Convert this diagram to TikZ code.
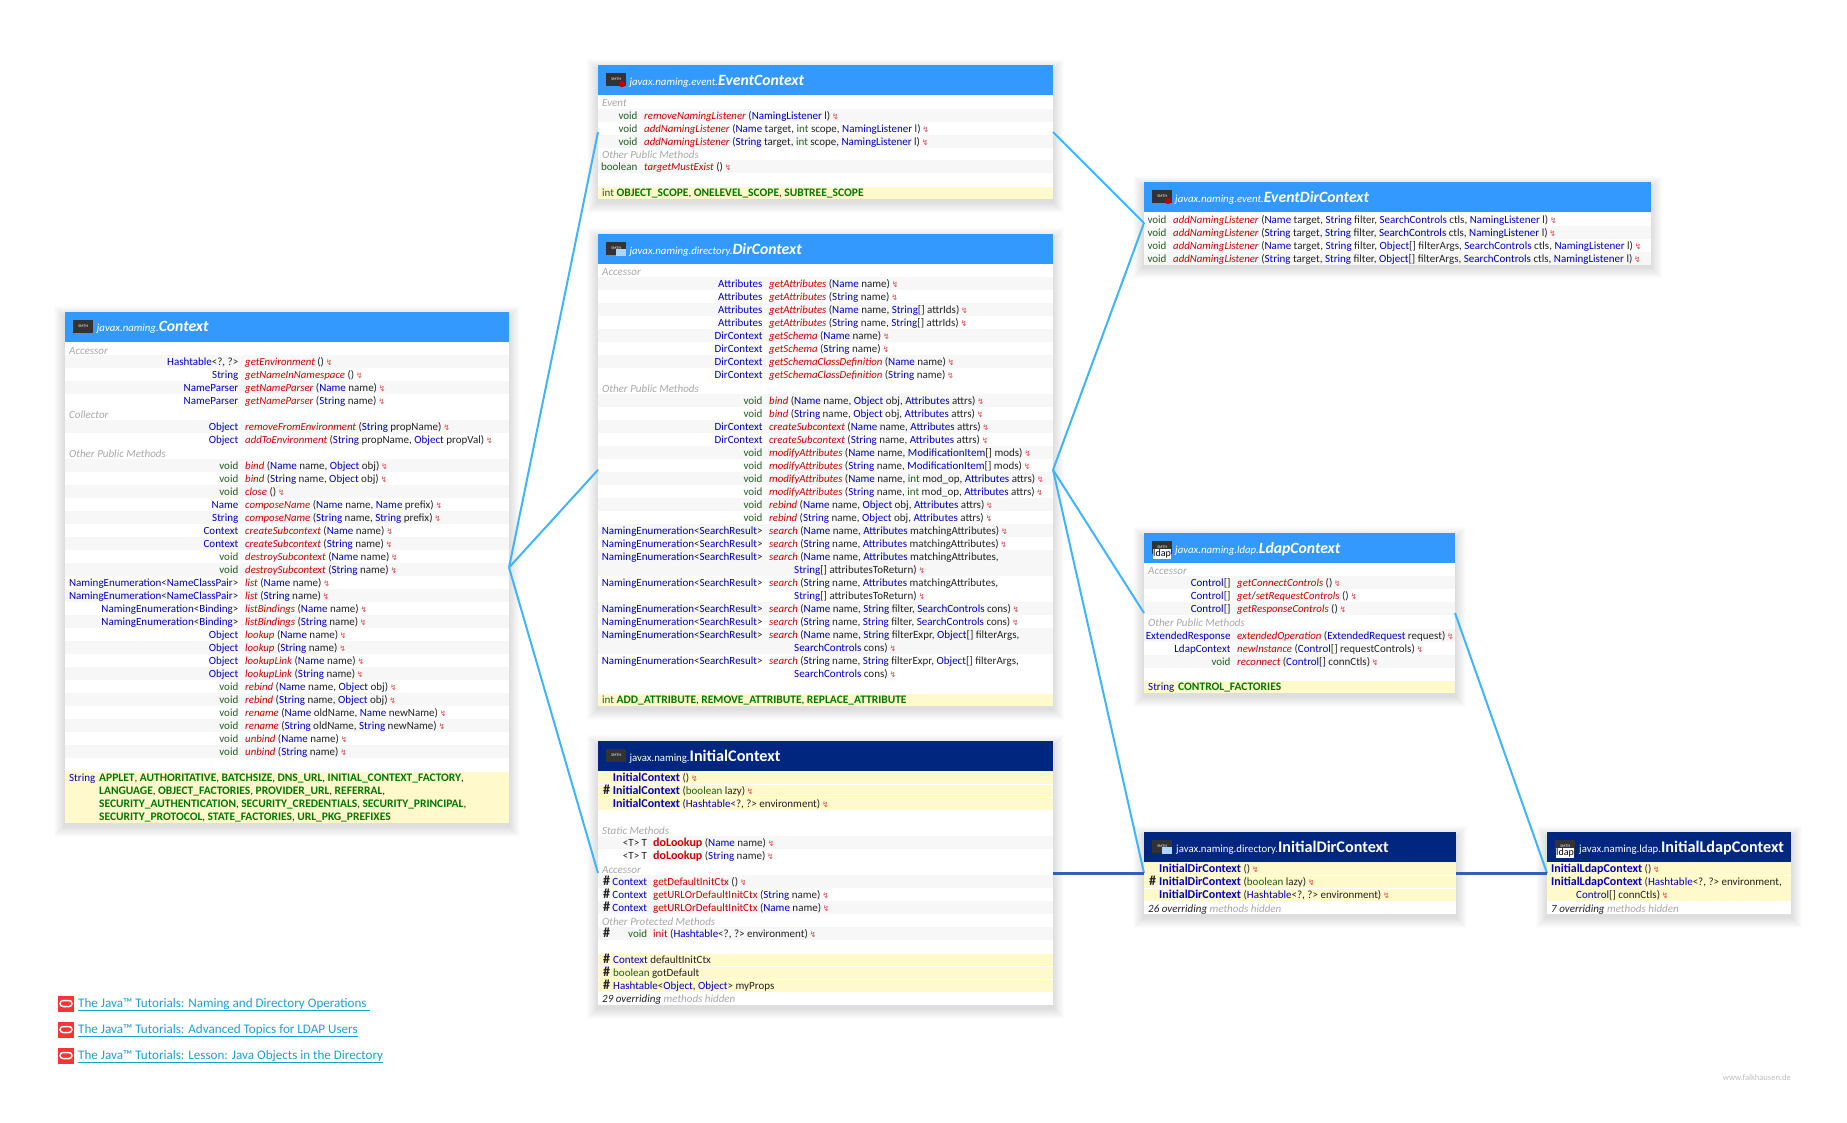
\documentclass[tikz,border=0pt]{standalone}
\usepackage{fontspec}
\usepackage{xcolor}
\usetikzlibrary{fit,calc}
\setmainfont{Carlito}
\newfontfamily\symfont{DejaVu Sans}

\definecolor{headlight}{HTML}{3399FF}
\definecolor{headdark}{HTML}{00267F}
\definecolor{rowgray}{HTML}{F7F7F7}
\definecolor{fieldyellow}{HTML}{FFF9CC}
\definecolor{typeblue}{HTML}{0000C0}
\definecolor{keygreen}{HTML}{1F5F1F}
\definecolor{methred}{HTML}{CC0000}
\definecolor{constgreen}{HTML}{007700}
\definecolor{sectgray}{HTML}{A8A8A8}
\definecolor{txtblack}{HTML}{222222}
\definecolor{inheritlight}{HTML}{40B4FF}
\definecolor{inheritdark}{HTML}{2F62B4}
\definecolor{linkblue}{HTML}{1E9FD0}
\definecolor{oraclered}{HTML}{FF3333}

\newcommand{\rowfont}{\fontsize{11}{13}\selectfont}
\newcommand{\T}[1]{\textcolor{typeblue}{#1}}
\newcommand{\K}[1]{\textcolor{keygreen}{#1}}
\newcommand{\C}[1]{\textcolor{constgreen}{\fontsize{11.5}{13}\selectfont\textbf{#1}}}
\newcommand{\zp}{\,{\symfont\fontsize{8}{8}\selectfont\textcolor{methred!70}{↯}}}
\newcommand{\M}[1]{\textcolor{methred}{\fontsize{10.8}{13}\selectfont\textit{#1}}}
\newcommand{\Mb}[1]{\textcolor{methred}{\fontsize{12}{13}\selectfont\textbf{#1}}}
\newcommand{\Mp}[1]{\textcolor{methred}{#1}}
\newcommand{\Mc}[1]{\textcolor{typeblue}{\fontsize{12}{13}\selectfont\textbf{#1}}}
\newcommand{\hs}{\textbf{\fontsize{14}{13}\selectfont\#}}

\newcounter{rowno}
\tikzset{
  rettext/.style={anchor=base east,inner sep=0pt,yshift=-4pt,font=\rowfont,text=txtblack},
  methtext/.style={anchor=base west,inner sep=0pt,yshift=-4pt,font=\rowfont,text=txtblack},
  secttext/.style={methtext,text=sectgray,font=\rowfont\itshape},
  titletext/.style={anchor=base west,inner sep=0pt,text=white},
  classbody/.style={inner sep=0pt,outer sep=0pt,fill=white},
  classhead/.style={inner sep=0pt,outer sep=0pt},
  inherit/.style={inheritlight,line width=2pt},
  extend/.style={inheritdark,line width=3pt},
  linktext/.style={anchor=base west,inner sep=0pt,text=linkblue,font=\fontsize{13.1}{14}\selectfont}
}

% row with type column and method column
\newcommand{\mrow}[3]{\stepcounter{rowno}%
  \node[rettext] (ret\therowno) at (\xr,#1) {#2};
  \node[methtext] (meth\therowno) at (\xm,#1) {#3};}
% text starting at a given x
\newcommand{\trow}[3]{\stepcounter{rowno}%
  \node[methtext] (line\therowno) at (#1,#2) {#3};}
\newcommand{\sect}[3]{\stepcounter{rowno}%
  \node[secttext] (sect\therowno) at (#1,#2) {#3};}
\newcommand{\stripes}[3]{\foreach \y in {#3} \fill[rowgray] (#1,\y-6.5) rectangle (#2,\y+6.5);}
\newcommand{\fieldbar}[4]{\fill[fieldyellow] (#1,#3) rectangle (#2,#4);}

% box with soft shadow and coloured head
\newcommand{\classbox}[6]{%
  \foreach \s in {1,...,11} \fill[black,opacity=.011] (#2-\s,#3-\s+5) rectangle (#4+\s,#5+\s+3);
  \coordinate (#1-a) at (#2,#3);
  \coordinate (#1-b) at (#4,#5);
  \coordinate (#1-c) at (#2,#3+30);
  \coordinate (#1-d) at (#4,#3);
  \node[classbody,fit=(#1-a)(#1-b)] (#1) {};
  \node[classhead,fill=#6,fit=(#1-c)(#1-d)] (#1-head) {};
  \node[inner sep=0pt,fill=black!80,minimum width=20,minimum height=13,anchor=north west,
    text=white!70,font=\fontsize{4}{4}\selectfont] (#1-icon) at (#2+8,#3+8) {SMTH};}

\newcommand{\ifacetitle}[4]{\node[titletext] (#1-title) at (#2) {\fontsize{10.8}{12}\selectfont\textit{#3}\fontsize{15.7}{12}\selectfont\textbf{\textit{#4}}};}
\newcommand{\classtitle}[4]{\node[titletext] (#1-title) at (#2) {\fontsize{10.8}{12}\selectfont #3\fontsize{16.2}{12}\selectfont\textbf{#4}};}

\newcommand{\tutorial}[3]{%
  \node[fill=oraclered,minimum width=16,minimum height=16,inner sep=0pt] (ora#1) at (66,#2) {};
  \draw[white,line width=1.5pt,rounded corners=3] ($(ora#1.center)+(-6,-3)$) rectangle ($(ora#1.center)+(6,3)$);
  \node[linktext] (tut#1) at (78,#2+3.5) {\underline{#3}};}

\begin{document}
\begin{tikzpicture}[x=1pt,y=-1pt]
  \useasboundingbox (0,0) rectangle (1847,1122);

  % Context
  \classbox{context}{65}{312}{509}{823}{headlight}
  \ifacetitle{context}{96.7,331.7}{javax.naming.}{Context}
  \stripes{65}{509}{361.7,387.7,426.7,465.7,491.7,517.7,543.7,569.7,595.7,621.7,647.7,673.7,699.7,725.7,751.7}
  \fieldbar{65}{509}{771.7}{823}
  \def\xr{238.5}\def\xm{245}
  \sect{69}{350}{Accessor}
  \mrow{361.7}{\T{Hashtable}<?, ?>}{\M{getEnvironment} ()\zp}
  \mrow{374.7}{\T{String}}{\M{getNameInNamespace} ()\zp}
  \mrow{387.7}{\T{NameParser}}{\M{getNameParser} (\T{Name} name)\zp}
  \mrow{400.7}{\T{NameParser}}{\M{getNameParser} (\T{String} name)\zp}
  \sect{69}{414.5}{Collector}
  \mrow{426.7}{\T{Object}}{\M{removeFromEnvironment} (\T{String} propName)\zp}
  \mrow{439.7}{\T{Object}}{\M{addToEnvironment} (\T{String} propName, \T{Object} propVal)\zp}
  \sect{69}{453.5}{Other Public Methods}
  \mrow{465.7}{\K{void}}{\M{bind} (\T{Name} name, \T{Object} obj)\zp}
  \mrow{478.7}{\K{void}}{\M{bind} (\T{String} name, \T{Object} obj)\zp}
  \mrow{491.7}{\K{void}}{\M{close} ()\zp}
  \mrow{504.7}{\T{Name}}{\M{composeName} (\T{Name} name, \T{Name} prefix)\zp}
  \mrow{517.7}{\T{String}}{\M{composeName} (\T{String} name, \T{String} prefix)\zp}
  \mrow{530.7}{\T{Context}}{\M{createSubcontext} (\T{Name} name)\zp}
  \mrow{543.7}{\T{Context}}{\M{createSubcontext} (\T{String} name)\zp}
  \mrow{556.7}{\K{void}}{\M{destroySubcontext} (\T{Name} name)\zp}
  \mrow{569.7}{\K{void}}{\M{destroySubcontext} (\T{String} name)\zp}
  \mrow{582.7}{\T{NamingEnumeration}<\T{NameClassPair}>}{\M{list} (\T{Name} name)\zp}
  \mrow{595.7}{\T{NamingEnumeration}<\T{NameClassPair}>}{\M{list} (\T{String} name)\zp}
  \mrow{608.7}{\T{NamingEnumeration}<\T{Binding}>}{\M{listBindings} (\T{Name} name)\zp}
  \mrow{621.7}{\T{NamingEnumeration}<\T{Binding}>}{\M{listBindings} (\T{String} name)\zp}
  \mrow{634.7}{\T{Object}}{\M{lookup} (\T{Name} name)\zp}
  \mrow{647.7}{\T{Object}}{\M{lookup} (\T{String} name)\zp}
  \mrow{660.7}{\T{Object}}{\M{lookupLink} (\T{Name} name)\zp}
  \mrow{673.7}{\T{Object}}{\M{lookupLink} (\T{String} name)\zp}
  \mrow{686.7}{\K{void}}{\M{rebind} (\T{Name} name, \T{Object} obj)\zp}
  \mrow{699.7}{\K{void}}{\M{rebind} (\T{String} name, \T{Object} obj)\zp}
  \mrow{712.7}{\K{void}}{\M{rename} (\T{Name} oldName, \T{Name} newName)\zp}
  \mrow{725.7}{\K{void}}{\M{rename} (\T{String} oldName, \T{String} newName)\zp}
  \mrow{738.7}{\K{void}}{\M{unbind} (\T{Name} name)\zp}
  \mrow{751.7}{\K{void}}{\M{unbind} (\T{String} name)\zp}
  \trow{69}{777.3}{\T{String}}
  \trow{99}{777.3}{\C{APPLET}, \C{AUTHORITATIVE}, \C{BATCHSIZE}, \C{DNS\_URL}, \C{INITIAL\_CONTEXT\_FACTORY},}
  \trow{99}{790.3}{\C{LANGUAGE}, \C{OBJECT\_FACTORIES}, \C{PROVIDER\_URL}, \C{REFERRAL},}
  \trow{99}{803.3}{\C{SECURITY\_AUTHENTICATION}, \C{SECURITY\_CREDENTIALS}, \C{SECURITY\_PRINCIPAL},}
  \trow{99}{816.3}{\C{SECURITY\_PROTOCOL}, \C{STATE\_FACTORIES}, \C{URL\_PKG\_PREFIXES}}

  % EventContext
  \classbox{eventctx}{598}{65}{1053}{199}{headlight}
  \fill[red!75!black] (622,84) circle (3.2);
  \ifacetitle{eventctx}{629.3,85}{javax.naming.event.}{EventContext}
  \stripes{598}{1053}{115,141,166.7}
  \fieldbar{598}{1053}{187}{199}
  \def\xr{637.7}\def\xm{644}
  \sect{602}{102.7}{Event}
  \mrow{115}{\K{void}}{\M{removeNamingListener} (\T{NamingListener} l)\zp}
  \mrow{128}{\K{void}}{\M{addNamingListener} (\T{Name} target, \K{int} scope, \T{NamingListener} l)\zp}
  \mrow{141}{\K{void}}{\M{addNamingListener} (\T{String} target, \K{int} scope, \T{NamingListener} l)\zp}
  \sect{602}{154.7}{Other Public Methods}
  \mrow{166.7}{\K{boolean}}{\M{targetMustExist} ()\zp}
  \trow{602}{192.3}{\K{int} \C{OBJECT\_SCOPE}, \C{ONELEVEL\_SCOPE}, \C{SUBTREE\_SCOPE}}

  % DirContext
  \classbox{dirctx}{598}{234}{1053}{705.7}{headlight}
  \fill[headlight!40] (616,249) rectangle (626,256);
  \ifacetitle{dirctx}{629.3,254}{javax.naming.directory.}{DirContext}
  \stripes{598}{1053}{283.7,309.7,335.7,361.7,400.7,426.7,452.7,478.7,504.7,530.7,556.7,569.7,608.7,634.7,647.7}
  \fieldbar{598}{1053}{694}{705.7}
  \def\xr{762.7}\def\xm{769}
  \sect{602}{271.7}{Accessor}
  \mrow{283.7}{\T{Attributes}}{\M{getAttributes} (\T{Name} name)\zp}
  \mrow{296.7}{\T{Attributes}}{\M{getAttributes} (\T{String} name)\zp}
  \mrow{309.7}{\T{Attributes}}{\M{getAttributes} (\T{Name} name, \T{String}[] attrIds)\zp}
  \mrow{322.7}{\T{Attributes}}{\M{getAttributes} (\T{String} name, \T{String}[] attrIds)\zp}
  \mrow{335.7}{\T{DirContext}}{\M{getSchema} (\T{Name} name)\zp}
  \mrow{348.7}{\T{DirContext}}{\M{getSchema} (\T{String} name)\zp}
  \mrow{361.7}{\T{DirContext}}{\M{getSchemaClassDefinition} (\T{Name} name)\zp}
  \mrow{374.7}{\T{DirContext}}{\M{getSchemaClassDefinition} (\T{String} name)\zp}
  \sect{602}{388.3}{Other Public Methods}
  \mrow{400.7}{\K{void}}{\M{bind} (\T{Name} name, \T{Object} obj, \T{Attributes} attrs)\zp}
  \mrow{413.7}{\K{void}}{\M{bind} (\T{String} name, \T{Object} obj, \T{Attributes} attrs)\zp}
  \mrow{426.7}{\T{DirContext}}{\M{createSubcontext} (\T{Name} name, \T{Attributes} attrs)\zp}
  \mrow{439.7}{\T{DirContext}}{\M{createSubcontext} (\T{String} name, \T{Attributes} attrs)\zp}
  \mrow{452.7}{\K{void}}{\M{modifyAttributes} (\T{Name} name, \T{ModificationItem}[] mods)\zp}
  \mrow{465.7}{\K{void}}{\M{modifyAttributes} (\T{String} name, \T{ModificationItem}[] mods)\zp}
  \mrow{478.7}{\K{void}}{\M{modifyAttributes} (\T{Name} name, \K{int} mod\_op, \T{Attributes} attrs)\zp}
  \mrow{491.7}{\K{void}}{\M{modifyAttributes} (\T{String} name, \K{int} mod\_op, \T{Attributes} attrs)\zp}
  \mrow{504.7}{\K{void}}{\M{rebind} (\T{Name} name, \T{Object} obj, \T{Attributes} attrs)\zp}
  \mrow{517.7}{\K{void}}{\M{rebind} (\T{String} name, \T{Object} obj, \T{Attributes} attrs)\zp}
  \mrow{530.7}{\T{NamingEnumeration}<\T{SearchResult}>}{\M{search} (\T{Name} name, \T{Attributes} matchingAttributes)\zp}
  \mrow{543.7}{\T{NamingEnumeration}<\T{SearchResult}>}{\M{search} (\T{String} name, \T{Attributes} matchingAttributes)\zp}
  \mrow{556.7}{\T{NamingEnumeration}<\T{SearchResult}>}{\M{search} (\T{Name} name, \T{Attributes} matchingAttributes,}
  \trow{794}{569.7}{\T{String}[] attributesToReturn)\zp}
  \mrow{582.7}{\T{NamingEnumeration}<\T{SearchResult}>}{\M{search} (\T{String} name, \T{Attributes} matchingAttributes,}
  \trow{794}{595.7}{\T{String}[] attributesToReturn)\zp}
  \mrow{608.7}{\T{NamingEnumeration}<\T{SearchResult}>}{\M{search} (\T{Name} name, \T{String} filter, \T{SearchControls} cons)\zp}
  \mrow{621.7}{\T{NamingEnumeration}<\T{SearchResult}>}{\M{search} (\T{String} name, \T{String} filter, \T{SearchControls} cons)\zp}
  \mrow{634.7}{\T{NamingEnumeration}<\T{SearchResult}>}{\M{search} (\T{Name} name, \T{String} filterExpr, \T{Object}[] filterArgs,}
  \trow{794}{647.7}{\T{SearchControls} cons)\zp}
  \mrow{660.7}{\T{NamingEnumeration}<\T{SearchResult}>}{\M{search} (\T{String} name, \T{String} filterExpr, \T{Object}[] filterArgs,}
  \trow{794}{673.7}{\T{SearchControls} cons)\zp}
  \trow{602}{699.3}{\K{int} \C{ADD\_ATTRIBUTE}, \C{REMOVE\_ATTRIBUTE}, \C{REPLACE\_ATTRIBUTE}}

  % InitialContext
  \classbox{initctx}{598}{741}{1053}{1005}{headdark}
  \classtitle{initctx}{629.3,761}{javax.naming.}{InitialContext}
  \fieldbar{598}{1053}{771}{784.3}
  \fieldbar{598}{1053}{785.3}{797.3}
  \fieldbar{598}{1053}{798.3}{810}
  \stripes{598}{1053}{842.7,881.7,907.7,933.7}
  \fieldbar{598}{1053}{954}{966.3}
  \fieldbar{598}{1053}{967.3}{979.3}
  \fieldbar{598}{1053}{980.3}{992}
  \def\xr{647.3}\def\xm{653}
  \trow{603}{790.7}{\hs}
  \trow{612.7}{777.7}{\Mc{InitialContext} ()\zp}
  \trow{612.7}{790.7}{\Mc{InitialContext} (\K{boolean} lazy)\zp}
  \trow{612.7}{803.7}{\Mc{InitialContext} (\T{Hashtable}<?, ?> environment)\zp}
  \sect{602}{830.7}{Static Methods}
  \mrow{842.7}{<T> T}{\Mb{doLookup} (\T{Name} name)\zp}
  \mrow{855.7}{<T> T}{\Mb{doLookup} (\T{String} name)\zp}
  \sect{602}{869.7}{Accessor}
  \trow{603}{881.7}{\hs}
  \mrow{881.7}{\T{Context}}{\Mp{getDefaultInitCtx} ()\zp}
  \trow{603}{894.7}{\hs}
  \mrow{894.7}{\T{Context}}{\Mp{getURLOrDefaultInitCtx} (\T{String} name)\zp}
  \trow{603}{907.7}{\hs}
  \mrow{907.7}{\T{Context}}{\Mp{getURLOrDefaultInitCtx} (\T{Name} name)\zp}
  \sect{602}{921.3}{Other Protected Methods}
  \trow{603}{933.7}{\hs}
  \mrow{933.7}{\K{void}}{\Mp{init} (\T{Hashtable}<?, ?> environment)\zp}
  \trow{603}{959.7}{\hs}
  \trow{613}{959.7}{\T{Context} defaultInitCtx}
  \trow{603}{972.7}{\hs}
  \trow{613}{972.7}{\K{boolean} gotDefault}
  \trow{603}{985.7}{\hs}
  \trow{613}{985.7}{\T{Hashtable}<\T{Object}, \T{Object}> myProps}
  \trow{602}{998.7}{\textit{29 overriding \textcolor{sectgray}{methods hidden}}}

  % EventDirContext
  \classbox{eventdir}{1144}{182}{1651}{264}{headlight}
  \fill[red!75!black] (1168,201) circle (3.2);
  \ifacetitle{eventdir}{1175,202}{javax.naming.event.}{EventDirContext}
  \stripes{1144}{1651}{232,258}
  \def\xr{1166.7}\def\xm{1173}
  \mrow{219}{\K{void}}{\M{addNamingListener} (\T{Name} target, \T{String} filter, \T{SearchControls} ctls, \T{NamingListener} l)\zp}
  \mrow{232}{\K{void}}{\M{addNamingListener} (\T{String} target, \T{String} filter, \T{SearchControls} ctls, \T{NamingListener} l)\zp}
  \mrow{245}{\K{void}}{\M{addNamingListener} (\T{Name} target, \T{String} filter, \T{Object}[] filterArgs, \T{SearchControls} ctls, \T{NamingListener} l)\zp}
  \mrow{258}{\K{void}}{\M{addNamingListener} (\T{String} target, \T{String} filter, \T{Object}[] filterArgs, \T{SearchControls} ctls, \T{NamingListener} l)\zp}

  % LdapContext
  \classbox{ldapctx}{1144}{533}{1455}{693}{headlight}
  \node[fill=white,text=black,inner sep=.5pt,font=\fontsize{10}{10}\selectfont] (ldapctx-mark) at (1162,554) {ldap};
  \ifacetitle{ldapctx}{1175,553}{javax.naming.ldap.}{LdapContext}
  \stripes{1144}{1455}{582.7,608.7,635,661}
  \fieldbar{1144}{1455}{681}{693}
  \def\xr{1230.7}\def\xm{1237}
  \sect{1148}{570.7}{Accessor}
  \mrow{582.7}{\T{Control}[]}{\M{getConnectControls} ()\zp}
  \mrow{595.7}{\T{Control}[]}{\M{get}/\M{setRequestControls} ()\zp}
  \mrow{608.7}{\T{Control}[]}{\M{getResponseControls} ()\zp}
  \sect{1148}{622.7}{Other Public Methods}
  \mrow{635}{\T{ExtendedResponse}}{\M{extendedOperation} (\T{ExtendedRequest} request)\zp}
  \mrow{648}{\T{LdapContext}}{\M{newInstance} (\T{Control}[] requestControls)\zp}
  \mrow{661}{\K{void}}{\M{reconnect} (\T{Control}[] connCtls)\zp}
  \trow{1148}{686.7}{\T{String}}
  \trow{1178}{686.7}{\C{CONTROL\_FACTORIES}}

  % InitialDirContext
  \classbox{initdir}{1144}{832}{1456}{914}{headdark}
  \fill[headlight!40] (1162,847) rectangle (1172,854);
  \classtitle{initdir}{1176,852}{javax.naming.directory.}{InitialDirContext}
  \fieldbar{1144}{1456}{862}{875}
  \fieldbar{1144}{1456}{876}{888}
  \fieldbar{1144}{1456}{889}{901}
  \trow{1149}{881.7}{\hs}
  \trow{1159}{868.7}{\Mc{InitialDirContext} ()\zp}
  \trow{1159}{881.7}{\Mc{InitialDirContext} (\K{boolean} lazy)\zp}
  \trow{1159}{894.7}{\Mc{InitialDirContext} (\T{Hashtable}<?, ?> environment)\zp}
  \trow{1148}{908}{\textit{26 overriding \textcolor{sectgray}{methods hidden}}}

  % InitialLdapContext
  \classbox{initldap}{1547}{832}{1791}{914}{headdark}
  \node[fill=white,text=black,inner sep=.5pt,font=\fontsize{10}{10}\selectfont] (initldap-mark) at (1565,853) {ldap};
  \classtitle{initldap}{1579,852}{javax.naming.ldap.}{InitialLdapContext}
  \fieldbar{1547}{1791}{862}{875}
  \fieldbar{1547}{1791}{876}{901}
  \trow{1551}{868.7}{\Mc{InitialLdapContext} ()\zp}
  \trow{1551}{881.7}{\Mc{InitialLdapContext} (\T{Hashtable}<?, ?> environment,}
  \trow{1576}{894.7}{\T{Control}[] connCtls)\zp}
  \trow{1551}{908}{\textit{7 overriding \textcolor{sectgray}{methods hidden}}}

  % connectors
  \draw[inherit] (context.east) -- (eventctx.west);
  \draw[inherit] (context.east) -- (dirctx.west);
  \draw[inherit] (context.east) -- (initctx.west);
  \draw[inherit] (eventctx.east) -- (eventdir.west);
  \draw[inherit] (dirctx.east) -- (eventdir.west);
  \draw[inherit] (dirctx.east) -- (ldapctx.west);
  \draw[inherit] (dirctx.east) -- (initdir.west);
  \draw[inherit] (ldapctx.east) -- (initldap.west);
  \draw[extend] (initctx.east) -- (initdir.west);
  \draw[extend] (initdir.east) -- (initldap.west);

  % links
  \tutorial{1}{1003.5}{The Java™ Tutorials: Naming and Directory Operations\ }
  \tutorial{2}{1029.5}{The Java™ Tutorials: Advanced Topics for LDAP Users}
  \tutorial{3}{1055.5}{The Java™ Tutorials: Lesson: Java Objects in the Directory}
  \node[anchor=base east,inner sep=0pt,text=black!25,font=\fontsize{8.5}{9}\selectfont] (site) at (1791,1080) {www.falkhausen.de};
\end{tikzpicture}
\end{document}
